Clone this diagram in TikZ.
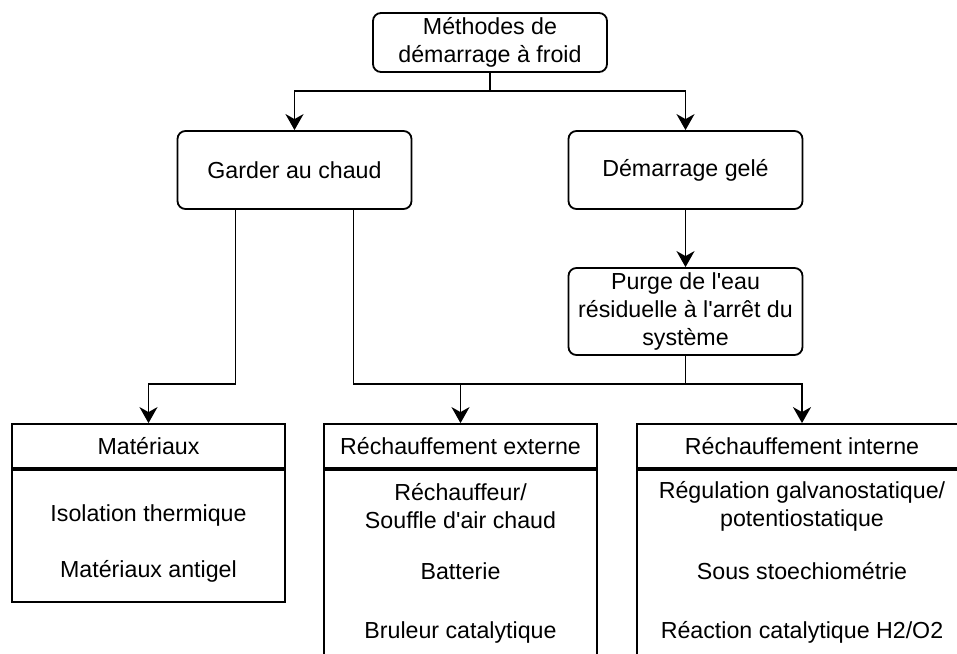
\documentclass[tikz,border=0pt]{standalone}
\usepackage{fontspec}
\setmainfont{Liberation Sans}
\usetikzlibrary{arrows.meta,positioning,calc}
\begin{document}
\begin{tikzpicture}[x=0.5pt,y=-0.5pt,line width=0.9pt,
	every node/.style = {font=\fontsize{11.6}{14}\selectfont, align=center, inner sep=0pt},
	round node/.style = {draw, rounded corners=4pt, minimum width=117pt},
	head node/.style = {draw, minimum width=136.5pt, minimum height=22pt},
	body node/.style = {draw, minimum width=136.5pt},
	arr/.style = {-{Stealth[length=8pt,width=9pt,inset=2.5pt]}}]

	\useasboundingbox (0,0) rectangle (957,653);
	\clip (0,0) rectangle (957,653);

	\node[round node, minimum height=29.5pt] (top) at (490,42.5) {Méthodes de\\démarrage à froid};
	\node[round node, minimum height=39pt] (warm) at (294.5,170) {Garder au chaud};
	\node[round node, minimum height=39pt] (frozen) at (685.5,170) {Démarrage gelé};
	\node[round node, minimum height=43.5pt] (purge) at (685.5,311.5) {Purge de l\textquotesingle eau\\résiduelle à l\textquotesingle arrêt du\\système};

	\node[head node] (mat) at (148.5,446) {Matériaux};
	\node[head node] (ext) at (460.5,446) {Réchauffement externe};
	\node[head node, minimum width=165pt] (int) at (802,446) {Réchauffement interne};
	\node[body node, minimum height=66pt, below=0pt of mat] (matbody) {};
	\node[body node, minimum height=110pt, below=0pt of ext] (extbody) {};
	\node[body node, minimum width=165pt, minimum height=110pt, below=0pt of int] (intbody) {};

	% list items
	\node at (148.5,515) (mat1) {Isolation thermique};
	\node at (148.5,571) (mat2) {Matériaux antigel};
	\node at (460.5,506) (ext1) {Réchauffeur/\\Souffle d\textquotesingle air chaud};
	\node at (460.5,571) (ext2) {Batterie};
	\node at (460.5,632) (ext3) {Bruleur catalytique};
	\node at (802,506) (int1) {Régulation galvanostatique/\\potentiostatique};
	\node at (802,571) (int2) {Sous stoechiométrie};
	\node at (802,632) (int3) {Réaction catalytique H2/O2};

	% connectors
	\coordinate (split) at (490,91);
	\coordinate (bus) at (0,384);
	\coordinate (w1) at ($(warm.south west)!0.25!(warm.south east)$);
	\coordinate (w2) at ($(warm.south west)!0.75!(warm.south east)$);

	\draw[arr] (top.south) |- (split) -| (warm.north);
	\draw[arr] (split) -| (frozen.north);
	\draw[arr] (frozen) -- (purge);
	\draw[arr] (w1) -- (w1 |- bus) -| (mat.north);
	\draw[arr] (w2) -- (w2 |- bus) -| (int.north);
	\draw[arr] (ext.north |- bus) -- (ext.north);
	\draw (purge.south) -- (purge.south |- bus);

\end{tikzpicture}
\end{document}
